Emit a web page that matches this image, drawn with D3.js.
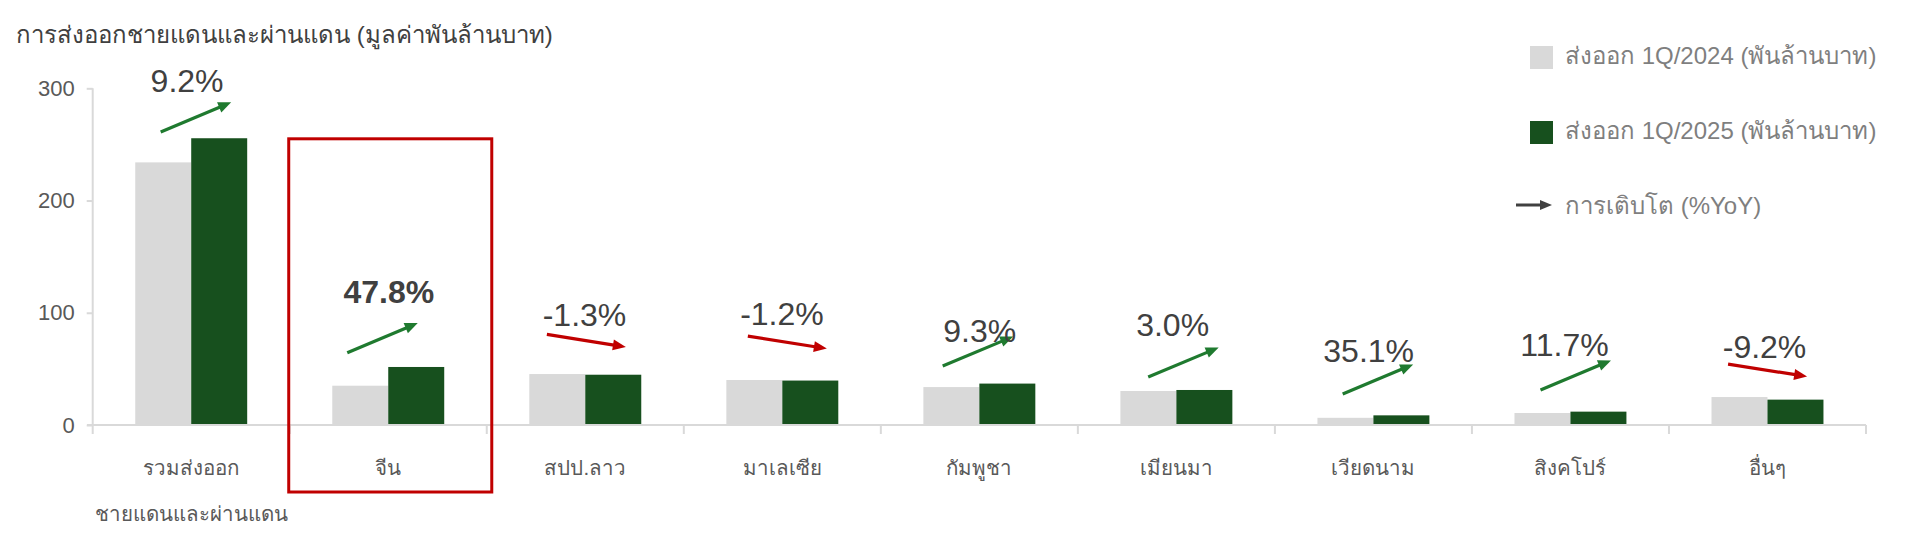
<!DOCTYPE html>
<html>
<head>
<meta charset="utf-8">
<script src="https://cdn.jsdelivr.net/npm/d3@7"></script>
<style>
  html, body { margin: 0; padding: 0; background: #fff; }
  svg { display: block; font-family: "Liberation Sans", Arial, sans-serif; }
</style>
</head>
<body>
<svg id="chart" width="1930" height="557"></svg>
<script>
// ---------------- data ----------------
const categories = ["รวมส่งออกชายแดนและผ่านแดน", "จีน", "สปป.ลาว", "มาเลเซีย", "กัมพูชา", "เมียนมา", "เวียดนาม", "สิงคโปร์", "อื่นๆ"];
const categoryLines = [["รวมส่งออก", "ชายแดนและผ่านแดน"], ["จีน"], ["สปป.ลาว"], ["มาเลเซีย"], ["กัมพูชา"], ["เมียนมา"], ["เวียดนาม"], ["สิงคโปร์"], ["อื่นๆ"]];
const exports2024 = [234, 35, 45.4, 40.1, 33.8, 30.3, 6.4, 10.7, 24.9];
const exports2025 = [255.5, 51.7, 44.8, 39.6, 36.9, 31.2, 8.6, 11.9, 22.6];
const growthYoY = [9.2, 47.8, -1.3, -1.2, 9.3, 3.0, 35.1, 11.7, -9.2];
const yTicks = [0, 100, 200, 300];
const seriesNames = ["ส่งออก 1Q/2024 (พันล้านบาท)", "ส่งออก 1Q/2025 (พันล้านบาท)"];
const growthLegend = "การเติบโต (%YoY)";
const title = "การส่งออกชายแดนและผ่านแดน (มูลค่าพันล้านบาท)";
const highlightCategory = "จีน";

// annotation anchors (data units: value at arrow start, value at label baseline; band fractions)
const arrowStartValue = [261.1, 64.4, 80.7, 79.2, 52.5, 42.7, 27.6, 31.2, 54.3];
const labelValue = [296.4, 108.6, 88.2, 89.0, 73.9, 79.2, 56.1, 61.4, 59.6];
const arrowStartFrac = [-0.155, -0.208, -0.195, -0.175, -0.186, -0.143, -0.156, -0.152, -0.2];
const labelFrac = [-0.021, 0.003, -0.004, -0.002, 0.002, -0.019, -0.024, -0.03, -0.015];

// ---------------- styles ----------------
const C_GRAY = "#d9d9d9", C_GREEN = "#17501e", C_ARROW_UP = "#1f7a2f", C_ARROW_DN = "#c00000";
const C_AXIS = "#d9d9d9", C_TEXT = "#595959", C_DARK = "#404040", C_LEG = "#7f7f7f";

const svg = d3.select("#chart");

const x = d3.scaleBand().domain(categories).range([92.7, 1866]).padding(0);
const xs = d3.scaleBand().domain([0, 1]).range([0, x.bandwidth()]).paddingInner(0).paddingOuter(0.76);
const y = d3.scaleLinear().domain([0, 300]).range([425, 88.3]);

// title
svg.append("text").attr("x", 16).attr("y", 43)
  .attr("font-size", 24).attr("fill", C_DARK).text(title);

// y axis
const yAxis = d3.axisLeft(y).tickValues(yTicks).tickSize(6).tickPadding(12).tickFormat(d3.format("d"));
const gy = svg.append("g").attr("transform", "translate(92.7,0)").call(yAxis);
gy.select(".domain").remove();
gy.selectAll(".tick line").attr("stroke", C_AXIS).attr("stroke-width", 2);
gy.selectAll(".tick text").attr("font-size", 22).attr("fill", C_TEXT)
  .attr("font-family", "Liberation Sans, Arial, sans-serif");
svg.append("line").attr("x1", 92.7).attr("x2", 92.7).attr("y1", y(300)).attr("y2", y(0) + 9)
  .attr("stroke", C_AXIS).attr("stroke-width", 2);

// bars
const gBars = svg.append("g");
categories.forEach((c, i) => {
  [exports2024[i], exports2025[i]].forEach((v, s) => {
    gBars.append("rect")
      .attr("x", x(c) + xs(s))
      .attr("y", y(v))
      .attr("width", xs.bandwidth())
      .attr("height", y(0) - y(v))
      .attr("fill", s === 0 ? C_GRAY : C_GREEN);
  });
});

// x axis line + ticks
svg.append("line").attr("x1", 87).attr("x2", x.range()[1]).attr("y1", y(0)).attr("y2", y(0))
  .attr("stroke", C_AXIS).attr("stroke-width", 2);
const boundaries = categories.map(c => x(c)).concat([x.range()[1]]).slice(1);
svg.append("g").selectAll("line").data(boundaries).join("line")
  .attr("x1", d => d).attr("x2", d => d).attr("y1", y(0)).attr("y2", y(0) + 9)
  .attr("stroke", C_AXIS).attr("stroke-width", 2);

// category labels
categories.forEach((c, i) => {
  categoryLines[i].forEach((ln, k) => {
    svg.append("text").attr("x", x(c) + x.bandwidth() / 2).attr("y", 475 + k * 46)
      .attr("text-anchor", "middle").attr("font-size", 20.5).attr("fill", C_TEXT).text(ln);
  });
});

// highlight box
svg.append("rect")
  .attr("x", x(highlightCategory) - 1).attr("y", y(255))
  .attr("width", x.bandwidth() + 6).attr("height", y(0) + 67 - y(255))
  .attr("fill", "none").attr("stroke", C_ARROW_DN).attr("stroke-width", 3);

// arrow helper
function arrow(g, x0, y0, x1, y1, color, width, headL, headW) {
  const dx = x1 - x0, dy = y1 - y0, L = Math.hypot(dx, dy);
  const ux = dx / L, uy = dy / L;
  const bx = x1 - ux * headL, by = y1 - uy * headL;
  g.append("line").attr("x1", x0).attr("y1", y0).attr("x2", bx + ux).attr("y2", by + uy)
    .attr("stroke", color).attr("stroke-width", width);
  const px = -uy * headW / 2, py = ux * headW / 2;
  g.append("path").attr("d", `M${x1},${y1}L${bx + px},${by + py}L${bx - px},${by - py}Z`).attr("fill", color);
}

const fmtPct = v => (v < 0 ? "-" : "") + Math.abs(v).toFixed(1) + "%";

// growth annotations
const gAnn = svg.append("g");
categories.forEach((c, i) => {
  const cx = x(c) + x.bandwidth() / 2;
  const up = growthYoY[i] >= 0;
  const x0 = cx + arrowStartFrac[i] * x.bandwidth();
  const y0 = y(arrowStartValue[i]);
  const vec = up ? [70.5, -29.6] : [79, 12.5];
  arrow(gAnn, x0, y0, x0 + vec[0], y0 + vec[1], up ? C_ARROW_UP : C_ARROW_DN, 3.2, 13, 11);
  gAnn.append("text").attr("x", cx + labelFrac[i] * x.bandwidth()).attr("y", y(labelValue[i]))
    .attr("text-anchor", "middle").attr("font-size", 32)
    .attr("font-weight", c === highlightCategory ? "bold" : "normal")
    .attr("fill", C_DARK).text(fmtPct(growthYoY[i]));
});

// legend
const gLeg = svg.append("g");
[C_GRAY, C_GREEN].forEach((col, s) => {
  gLeg.append("rect").attr("x", 1530).attr("y", 46 + s * 75).attr("width", 23).attr("height", 23).attr("fill", col);
  gLeg.append("text").attr("x", 1565).attr("y", 64 + s * 75).attr("font-size", 24)
    .attr("fill", C_LEG).text(seriesNames[s]);
});
arrow(gLeg, 1516, 205, 1552, 205, C_DARK, 3, 12, 10);
gLeg.append("text").attr("x", 1565).attr("y", 214).attr("font-size", 24).attr("fill", C_LEG).text(growthLegend);
</script>
</body>
</html>
